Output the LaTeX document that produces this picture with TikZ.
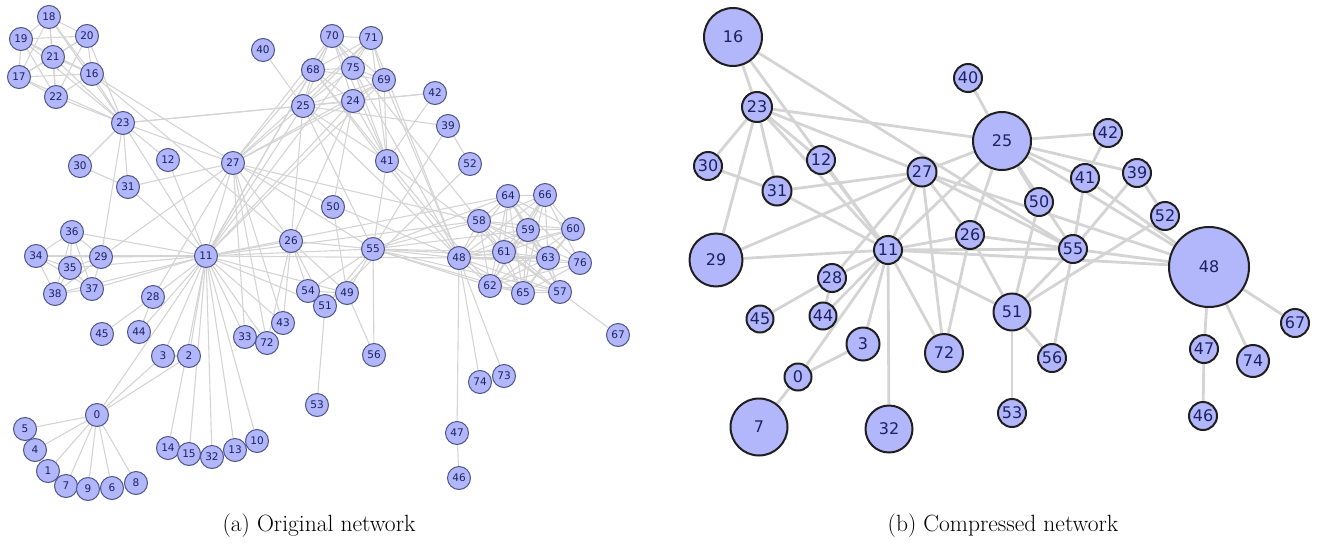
\documentclass[tikz,border=0pt]{standalone}
\usepackage{fontspec}
\usetikzlibrary{backgrounds}
\newfontfamily\netfont{DejaVu Sans}
\definecolor{nodefill}{RGB}{178,182,250}
\definecolor{nodeline}{RGB}{78,86,138}
\definecolor{nodetext}{RGB}{28,34,96}
\definecolor{edgegray}{RGB}{212,212,212}
\tikzset{
  onode/.style={circle, draw=nodeline, fill=nodefill, line width=1pt, minimum size=23pt,
    inner sep=0pt, text=nodetext, font=\netfont\fontsize{10.5}{11}\selectfont},
  cnode/.style={circle, draw=black!88, fill=nodefill, line width=2pt, minimum size=#1,
    inner sep=0pt, text=nodetext, font=\netfont\fontsize{16}{16}\selectfont},
  oedge/.style={draw=edgegray, line width=1.1pt},
  cedge/.style={draw=edgegray, line width=2.8pt},
  captext/.style={font=\fontsize{23.5}{28}\selectfont, inner sep=0pt}
}

\begin{document}
\begin{tikzpicture}[x=1pt, y=-1pt]
    \useasboundingbox (0,0) rectangle (1318,544);

    % ---- (a) original network
    \foreach \n/\x/\y in {
      0/97/415, 1/48/471, 2/189/356, 3/163/356, 4/35/450, 5/25/429, 6/112/488, 7/66/486,
      8/136/483, 9/88/489, 10/257/441, 11/206/256, 12/168/160, 13/235/450, 14/168/448,
      15/189/454, 16/92/74, 17/19/77, 18/49/17, 19/21/39, 20/87/36, 21/53/57, 22/56/97,
      23/123/123, 24/353/101, 25/303/106, 26/291/241, 27/233/163, 28/153/297, 29/101/257,
      30/80/166, 31/128/187, 32/212/457, 33/245/337, 34/36/256, 35/70/268, 36/72/232,
      37/92/289, 38/55/294, 39/448/126, 40/263/50, 41/387/161, 42/435/93, 43/283/323,
      44/139/332, 45/102/334, 46/459/478, 47/457/433, 48/459/258, 49/347/293, 50/333/207,
      51/325/306, 52/470/164, 53/317/405, 54/308/291, 55/373/249, 56/374/355, 57/560/292,
      58/479/221, 59/528/230, 60/573/229, 61/504/252, 62/490/286, 63/548/258, 64/508/196,
      65/523/293, 66/545/195, 67/618/335, 68/313/70, 69/384/80, 70/332/36, 71/371/38,
      72/267/343, 73/504/376, 74/480/382, 75/353/68, 76/580/263}
      \node[onode] (o\n) at (\x,\y) {\n};

    \begin{scope}[on background layer]
    \foreach \a/\b in {
      1/0, 2/0, 3/0, 3/2, 4/0, 5/0, 6/0, 7/0, 8/0, 9/0, 11/10, 11/3, 11/2, 11/0, 12/11,
      13/11, 14/11, 15/11, 17/16, 18/16, 18/17, 19/16, 19/17, 19/18, 20/16, 20/17, 20/18,
      20/19, 21/16, 21/17, 21/18, 21/19, 21/20, 22/16, 22/17, 22/18, 22/19, 22/20, 22/21,
      23/16, 23/17, 23/18, 23/19, 23/20, 23/21, 23/22, 23/12, 23/11, 24/23, 24/11, 25/24,
      25/23, 25/11, 26/24, 26/11, 26/16, 26/25, 27/11, 27/23, 27/25, 27/24, 27/26, 28/11,
      28/27, 29/23, 29/27, 29/11, 30/23, 31/30, 31/11, 31/23, 31/27, 32/11, 33/11, 33/27,
      34/11, 34/29, 35/34, 35/29, 35/11, 36/34, 36/35, 36/11, 36/29, 37/34, 37/35, 37/36,
      37/11, 37/29, 38/34, 38/35, 38/36, 38/37, 38/11, 38/29, 39/25, 40/25, 41/24, 41/25,
      42/41, 42/25, 42/24, 43/11, 43/26, 43/27, 44/28, 44/11, 45/28, 47/46, 48/47, 48/25,
      48/27, 48/11, 49/26, 49/11, 50/49, 50/24, 51/49, 51/26, 51/11, 52/51, 52/39, 53/51,
      54/51, 54/49, 54/26, 55/51, 55/49, 55/39, 55/54, 55/26, 55/11, 55/16, 55/25, 55/41,
      55/48, 56/49, 56/55, 57/55, 57/41, 57/48, 58/55, 58/48, 58/27, 58/57, 58/11, 59/58,
      59/55, 59/48, 59/57, 60/48, 60/58, 60/59, 61/48, 61/58, 61/60, 61/59, 61/57, 61/55,
      62/55, 62/58, 62/59, 62/48, 62/57, 62/41, 62/61, 62/60, 63/59, 63/48, 63/62, 63/57,
      63/58, 63/61, 63/60, 63/55, 64/55, 64/62, 64/48, 64/63, 64/58, 64/61, 64/60, 64/59,
      64/57, 64/11, 65/63, 65/64, 65/48, 65/62, 65/58, 65/61, 65/60, 65/59, 65/57, 65/55,
      66/64, 66/58, 66/59, 66/62, 66/65, 66/48, 66/63, 66/61, 66/60, 67/57, 68/25, 68/11,
      68/24, 68/27, 68/48, 68/41, 69/25, 69/68, 69/11, 69/24, 69/27, 69/48, 69/41, 70/25,
      70/69, 70/68, 70/11, 70/24, 70/27, 70/41, 70/58, 71/27, 71/69, 71/68, 71/70, 71/11,
      71/48, 71/41, 71/25, 72/26, 72/27, 72/11, 73/48, 74/48, 74/73, 75/69, 75/68, 75/25,
      75/48, 75/41, 75/70, 75/71, 76/64, 76/65, 76/66, 76/63, 76/62, 76/48, 76/58}
      \draw[oedge] (o\a) -- (o\b);
    \end{scope}

    % ---- (b) compressed network
    \foreach \n/\x/\y/\d in {
      16/733/37/58, 23/757/107/30, 40/968/78/28, 25/1002/141/58, 42/1108/133/28,
      30/708/166/28, 12/821/160/28, 31/777/191/29, 27/922/172/29, 41/1085/178/28,
      39/1137/173/28, 50/1039/202/28, 52/1165/216/28, 29/716/260/53, 26/970/235/28,
      11/888/250/28, 55/1073/249/28, 48/1209/267/80, 28/832/278/28, 45/760/319/27,
      44/823/316/27, 51/1012/312/37, 67/1295/323/28, 3/863/344/33, 72/944/353/38,
      56/1052/358/28, 47/1204/349/28, 74/1253/361/32, 0/798/377/27, 7/759/427/57,
      32/889/429/47, 53/1012/413/28, 46/1203/416/28}
      \node[cnode=\d pt] (c\n) at (\x,\y) {\n};

    \begin{scope}[on background layer]
    \foreach \a/\b in {
      16/23, 16/11, 16/55, 23/30, 23/29, 23/31, 23/12, 23/27, 23/11, 23/25, 30/31, 31/27,
      31/11, 12/11, 40/25, 27/25, 27/29, 27/11, 27/28, 27/26, 27/72, 27/55, 27/48, 25/42,
      25/39, 25/41, 25/50, 25/55, 25/48, 25/11, 25/26, 42/41, 41/55, 41/48, 39/52, 39/55,
      52/51, 50/51, 29/11, 11/28, 11/44, 11/0, 11/3, 11/32, 11/72, 11/51, 11/26, 11/55,
      11/48, 26/72, 26/51, 26/55, 28/45, 28/44, 0/3, 0/7, 55/48, 55/51, 55/56, 51/56,
      51/53, 48/47, 48/74, 48/67, 47/46}
      \draw[cedge] (c\a) -- (c\b);
    \end{scope}

    \node[captext] (capa) at (319,526) {(a) Original network};
    \node[captext] (capb) at (1003,526) {(b) Compressed network};
\end{tikzpicture}
\end{document}
